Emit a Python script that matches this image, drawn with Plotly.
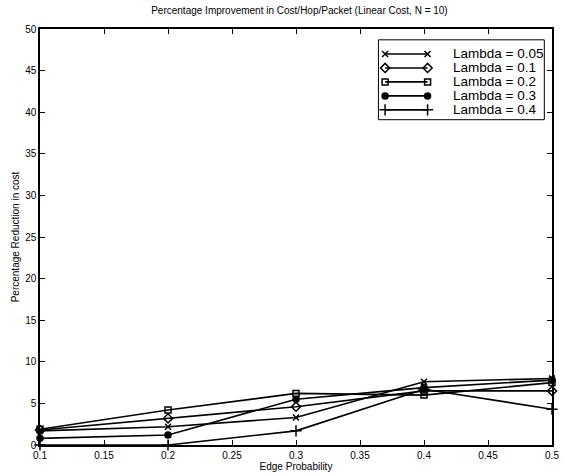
import plotly.graph_objects as go

# Edge probability values on the x axis
edge_prob = [0.1, 0.2, 0.3, 0.4, 0.5]

# Percentage reduction in cost for each arrival rate
lambda_labels = ["Lambda = 0.05", "Lambda = 0.1", "Lambda = 0.2", "Lambda = 0.3", "Lambda = 0.4"]
red_005 = [1.7, 2.2, 3.3, 7.6, 8.0]
red_01 = [1.8, 3.2, 4.6, 6.5, 6.5]
red_02 = [1.9, 4.2, 6.2, 6.0, 7.5]
red_03 = [0.8, 1.2, 5.5, 6.9, 7.8]
red_04 = [0.0, 0.0, 1.7, 6.7, 4.3]

x_ticks = [0.1, 0.15, 0.2, 0.25, 0.3, 0.35, 0.4, 0.45, 0.5]
x_tick_text = ["0.1", "0.15", "0.2", "0.25", "0.3", "0.35", "0.4", "0.45", "0.5"]
y_ticks = [0, 5, 10, 15, 20, 25, 30, 35, 40, 45, 50]

series = [red_005, red_01, red_02, red_03, red_04]
symbols = ["x-thin", "diamond-open", "square-open", "circle", "cross-thin"]
sizes = [6, 7, 6, 6, 8]

font_family = "Liberation Sans, Arial, Helvetica, sans-serif"

fig = go.Figure()
for name, ys, sym, sz in zip(lambda_labels, series, symbols, sizes):
    fig.add_trace(go.Scatter(
        x=edge_prob, y=ys, name=name, mode="lines+markers",
        line=dict(color="black", width=1.6),
        marker=dict(symbol=sym, size=sz, color="black",
                    line=dict(color="black", width=1.5)),
        cliponaxis=False, showlegend=False,
    ))

# Boxed key in the upper-right corner, drawn on an overlay axis spanning 0..1
key_top, key_step = 0.940, 0.0336
key_x0, key_x1, key_text_x = 0.674, 0.757, 0.807
fig.add_shape(type="rect", xref="paper", yref="paper",
              x0=0.661, x1=0.985, y0=0.782, y1=0.974,
              line=dict(color="black", width=1), fillcolor="white", layer="below")
for i, (name, sym, sz) in enumerate(zip(lambda_labels, symbols, sizes)):
    ky = key_top - i * key_step
    fig.add_trace(go.Scatter(
        x=[key_x0, key_x1], y=[ky, ky], xaxis="x2", yaxis="y2",
        mode="lines+markers", showlegend=False, hoverinfo="skip",
        line=dict(color="black", width=1.6),
        marker=dict(symbol=sym, size=sz, color="black",
                    line=dict(color="black", width=1.5)),
        cliponaxis=False,
    ))
    fig.add_annotation(x=key_text_x, y=ky, xref="paper", yref="paper",
                       text=name, showarrow=False, xanchor="left", yanchor="middle",
                       xshift=-2,
                       font=dict(size=13.5, family=font_family, color="black"))

fig.update_layout(
    width=565, height=476,
    margin=dict(l=40, r=6, t=29, b=30),
    paper_bgcolor="white", plot_bgcolor="white",
    font=dict(family=font_family, color="black", size=10),
    title=dict(text="Percentage Improvement in Cost/Hop/Packet (Linear Cost, N = 10)",
               x=0.53, xanchor="center", y=0.985, yanchor="top",
               font=dict(size=10, family=font_family, color="black")),
    showlegend=False,
    xaxis=dict(
        range=[0.1, 0.5], tickvals=x_ticks, ticktext=x_tick_text,
        showline=True, linecolor="black", linewidth=1.5, mirror="ticks",
        ticks="inside", ticklen=5, tickcolor="black", tickwidth=1,
        showgrid=False, zeroline=False,
        tickfont=dict(size=10, family=font_family, color="black"),
        title=dict(text="Edge Probability", standoff=2,
                   font=dict(size=10, family=font_family, color="black")),
    ),
    yaxis=dict(
        range=[0, 50], tickvals=y_ticks,
        showline=True, linecolor="black", linewidth=1.5, mirror="ticks",
        ticks="inside", ticklen=5, tickcolor="black", tickwidth=1,
        showgrid=False, zeroline=False,
        tickfont=dict(size=10, family=font_family, color="black"),
        title=dict(text="Percentage Reduction in cost", standoff=4,
                   font=dict(size=10, family=font_family, color="black")),
    ),
    xaxis2=dict(overlaying="x", range=[0, 1], visible=False, fixedrange=True),
    yaxis2=dict(overlaying="y", range=[0, 1], visible=False, fixedrange=True),
)

fig.write_html("out.html")
